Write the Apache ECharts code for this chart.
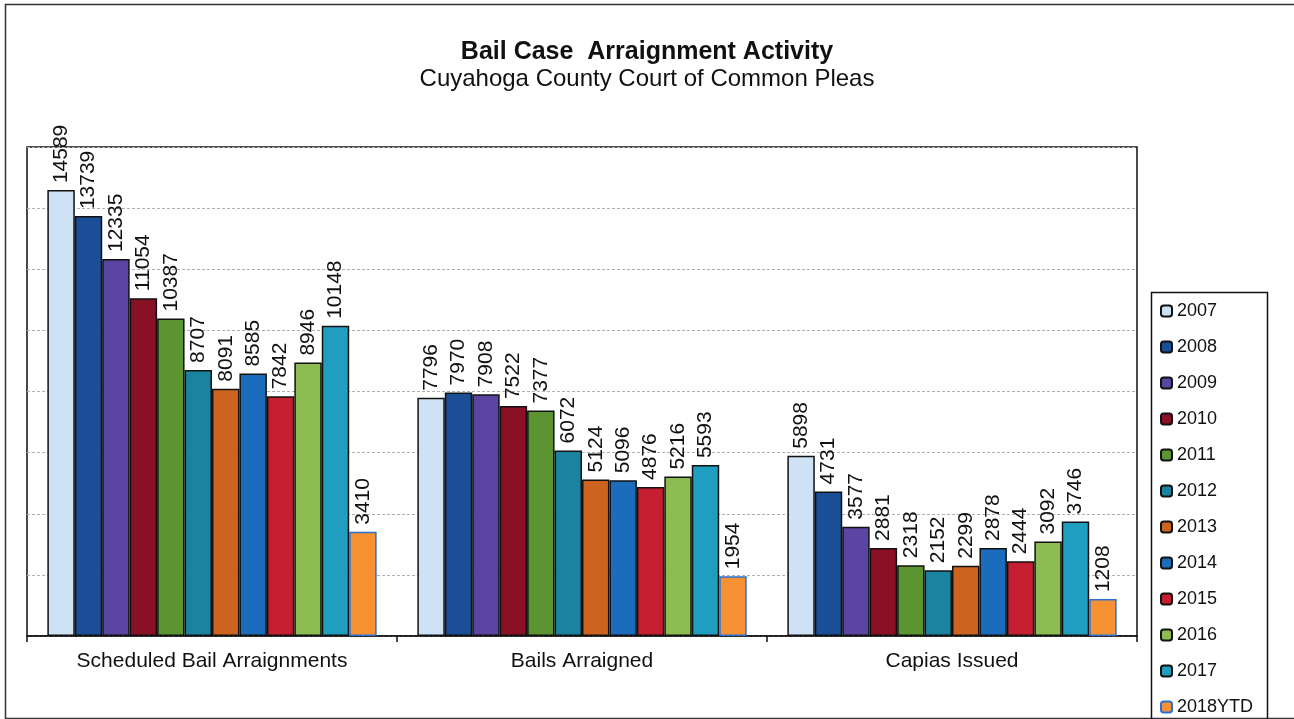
<!DOCTYPE html>
<html>
<head>
<meta charset="utf-8">
<script src="https://cdn.jsdelivr.net/npm/echarts@6/dist/echarts.min.js"></script>
<style>html,body{margin:0;padding:0;background:#fff;}#c{width:1294px;height:719px;}</style>
</head>
<body>
<div id="c"></div>
<script>
const categories = ['Scheduled Bail Arraignments', 'Bails Arraigned', 'Capias Issued'];
const years = ['2007','2008','2009','2010','2011','2012','2013','2014','2015','2016','2017','2018YTD'];
const scheduledBail = [14589, 13739, 12335, 11054, 10387, 8707, 8091, 8585, 7842, 8946, 10148, 3410];
const bailsArraigned = [7796, 7970, 7908, 7522, 7377, 6072, 5124, 5096, 4876, 5216, 5593, 1954];
const capiasIssued = [5898, 4731, 3577, 2881, 2318, 2152, 2299, 2878, 2444, 3092, 3746, 1208];
const colors = ['#cfe2f5','#1a4e96','#5a46a2','#8a1026','#5c9431','#1a84a0','#cc6420','#1c6cbc','#c41e30','#8cbc52','#1f9ec0','#f79234'];
const borders = ['#111','#111','#111','#111','#111','#111','#111','#111','#111','#111','#111','#2a70d0'];

const FONT = 'Liberation Sans, Arial, sans-serif';
const series = years.map((y, i) => ({
  name: y,
  type: 'bar',
  data: [scheduledBail[i], bailsArraigned[i], capiasIssued[i]],
  barGap: '0%',
  barCategoryGap: '11%',
  itemStyle: { color: colors[i], borderColor: borders[i], borderWidth: 1.5 },
  label: {
    show: true, position: 'top', rotate: 90, align: 'left', verticalAlign: 'middle',
    distance: 7, fontFamily: FONT, fontSize: 21, color: '#111'
  },
  emphasis: { disabled: true }
}));

const chart = echarts.init(document.getElementById('c'));
chart.setOption({
  animation: false,
  backgroundColor: '#fff',
  graphic: [
    { type: 'rect', left: 3, top: 2, shape: { width: 1320, height: 714 },
      style: { fill: 'none', stroke: '#333', lineWidth: 1.5 }, z: -1 },
    { type: 'rect', left: 1149, top: 290, shape: { width: 116, height: 460 },
      style: { fill: 'none', stroke: '#111', lineWidth: 1.5 }, z: -1 }
  ],
  title: [
    { text: 'Bail Case  Arraignment Activity', left: 'center', top: 35,
      textStyle: { fontFamily: FONT, fontWeight: 'bold', fontSize: 25, color: '#111' } },
    { text: 'Cuyahoga County Court of Common Pleas', left: 'center', top: 62,
      textStyle: { fontFamily: FONT, fontWeight: 'normal', fontSize: 24, color: '#111' } }
  ],
  grid: { left: 27, right: 157, top: 147, bottom: 83, show: true, borderColor: '#111', borderWidth: 1.5, backgroundColor: 'transparent' },
  legend: {
    orient: 'vertical', left: 1160, top: 301, data: years,
    itemWidth: 11, itemHeight: 11, itemGap: 16,
    padding: 0,
    textStyle: { fontFamily: FONT, fontSize: 18, color: '#111', lineHeight: 20 },
    selectedMode: false
  },
  xAxis: {
    type: 'category', data: categories,
    axisLine: { lineStyle: { color: '#111', width: 1.5 } },
    axisTick: { show: true, length: 6, lineStyle: { color: '#111', width: 1.5 } },
    axisLabel: { fontFamily: FONT, fontSize: 21, color: '#111', margin: 15 }
  },
  yAxis: {
    type: 'value', min: 0, max: 16000, interval: 2000,
    axisLine: { show: false }, axisTick: { show: false }, axisLabel: { show: false },
    splitLine: { lineStyle: { color: '#b0b0b8', type: [3, 2], width: 1 } }
  },
  series: series
});
</script>
</body>
</html>
